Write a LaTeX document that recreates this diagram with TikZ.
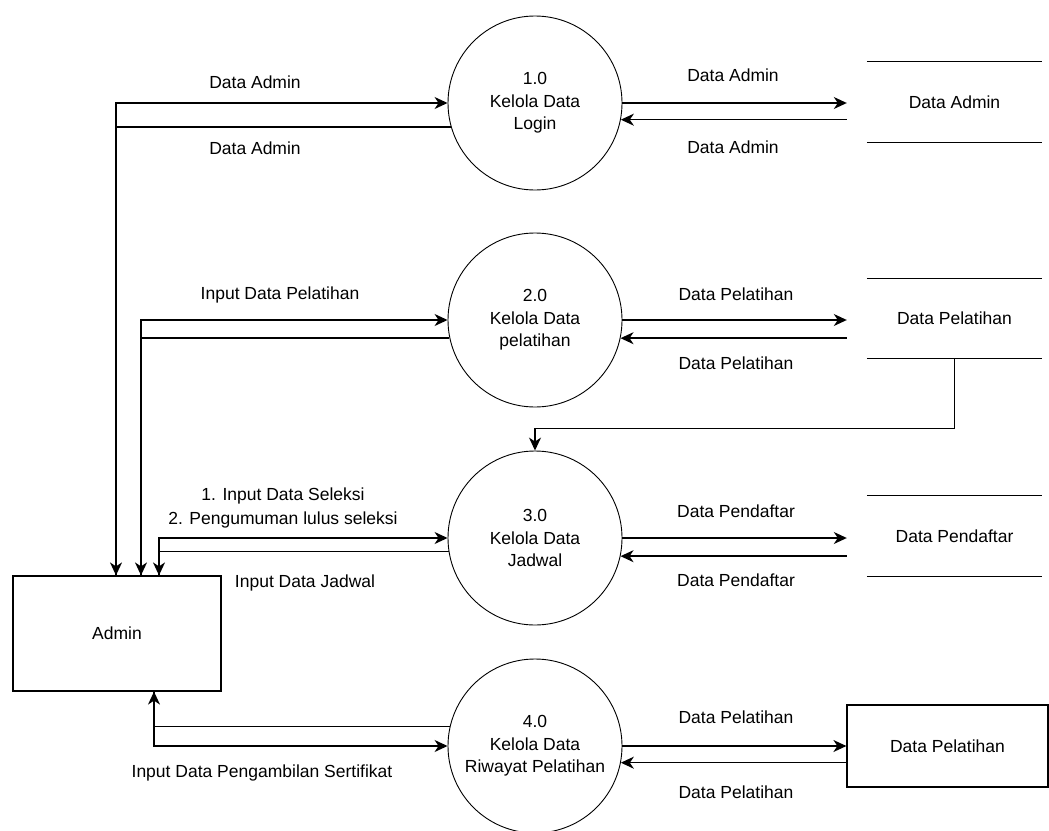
\documentclass[tikz,border=0pt]{standalone}
\usepackage{fontspec}
\setmainfont{Liberation Sans}
\usetikzlibrary{arrows.meta, positioning}

\tikzset{
	proc/.style={circle, draw, line width=0.9pt, minimum size=174pt, align=center, inner sep=0pt},
	ent/.style={rectangle, draw, line width=1.2pt, minimum width=208pt, minimum height=115pt},
	storeline/.style={draw, line width=1.3pt},
	store/.style={minimum width=175pt, minimum height=80pt,
		append after command={(\tikzlastnode.north west) edge[storeline] (\tikzlastnode.north east)
			(\tikzlastnode.south west) edge[storeline] (\tikzlastnode.south east)}},
	flow/.style={draw, line width=1.4pt, -{Stealth[length=13pt, width=12pt, inset=4pt]}},
	lbl/.style={inner sep=0pt, align=center}
}

\begin{document}
\begin{tikzpicture}[x=1pt, y=-1pt, font=\fontsize{17.5}{22.5}\selectfont]
	\useasboundingbox (0,0) rectangle (1049,830);
	
	\node[proc] (c1) at (535,103) {1.0\\Kelola Data\\Login};
	\node[proc] (c2) at (535,320) {2.0\\Kelola Data\\pelatihan};
	\node[proc] (c3) at (535,538) {3.0\\Kelola Data\\Jadwal};
	\node[proc] (c4) at (535,746) {4.0\\Kelola Data\\Riwayat Pelatihan};
	
	\node[ent] (admin) at (117,633.5) {Admin};
	
	\node[store] (s1) at (954.5,102) {Data Admin};
	\node[store] (s2) at (954.5,318.5) {Data Pelatihan};
	\node[store] (s3) at (954.5,536) {Data Pendaftar};
	\node[ent, minimum width=201pt, minimum height=82pt] (s4) at (947.5,746) {Data Pelatihan};
	
	\coordinate (j1) at (116,101);
	\coordinate (j2) at (141,319);
	\coordinate (j3) at (159,536);
	\coordinate (j4) at (154,745);
	
	\draw[flow] (admin.north -| j1) |- (c1.west);
	\draw[flow] (c1.196) -| (admin.north -| j1);
	\draw[flow] (admin.north -| j2) |- (c2.west);
	\draw[flow] (c2.192) -| (admin.north -| j2);
	\draw[flow] (admin.north -| j3) |- (c3.west);
	\draw[flow] (c3.189) -| (admin.north -| j3);
	\draw[flow] (c4.167) -| (admin.south -| j4);
	\draw[flow] (admin.south -| j4) |- (c4.west);
	
	\draw[flow, shorten >=20pt] (c1.east) -- (c1.east -| s1.west);
	\draw[flow, shorten <=20pt] (s1.west |- c1.-11) -- (c1.-11);
	\draw[flow, shorten >=20pt] (c2.east) -- (c2.east -| s2.west);
	\draw[flow, shorten <=20pt] (s2.west |- c2.-12) -- (c2.-12);
	\draw[flow, shorten >=20pt] (c3.east) -- (c3.east -| s3.west);
	\draw[flow, shorten <=20pt] (s3.west |- c3.-12) -- (c3.-12);
	\draw[flow] (c4.east) -- (c4.east -| s4.west);
	\draw[flow] (s4.west |- c4.-11) -- (c4.-11);
	
	\draw[flow] (s2.south) -- ++(0,69.5) -| (c3.north);
	
	\node[lbl] (l1a) at (255,82) {Data Admin};
	\node[lbl] (l1b) at (255,148) {Data Admin};
	\node[lbl] (l2a) at (280,295) {Input Data Pelatihan};
	\node[lbl, font=\fontsize{17.5}{24}\selectfont] (l3a) at (283,508) {1. Input Data Seleksi\\2. Pengumuman lulus seleksi};
	\node[lbl] (l3b) at (305,583) {Input Data Jadwal};
	\node[lbl] (l4a) at (262,773) {Input Data Pengambilan Sertifikat};
	
	\node[lbl] (r1a) at (733,75) {Data Admin};
	\node[lbl] (r1b) at (733,147) {Data Admin};
	\node[lbl] (r2a) at (736,294) {Data Pelatihan};
	\node[lbl] (r2b) at (736,363) {Data Pelatihan};
	\node[lbl] (r3a) at (736,511) {Data Pendaftar};
	\node[lbl] (r3b) at (736,580) {Data Pendaftar};
	\node[lbl] (r4a) at (736,717) {Data Pelatihan};
	\node[lbl] (r4b) at (736,792) {Data Pelatihan};
	
\end{tikzpicture}
\end{document}
